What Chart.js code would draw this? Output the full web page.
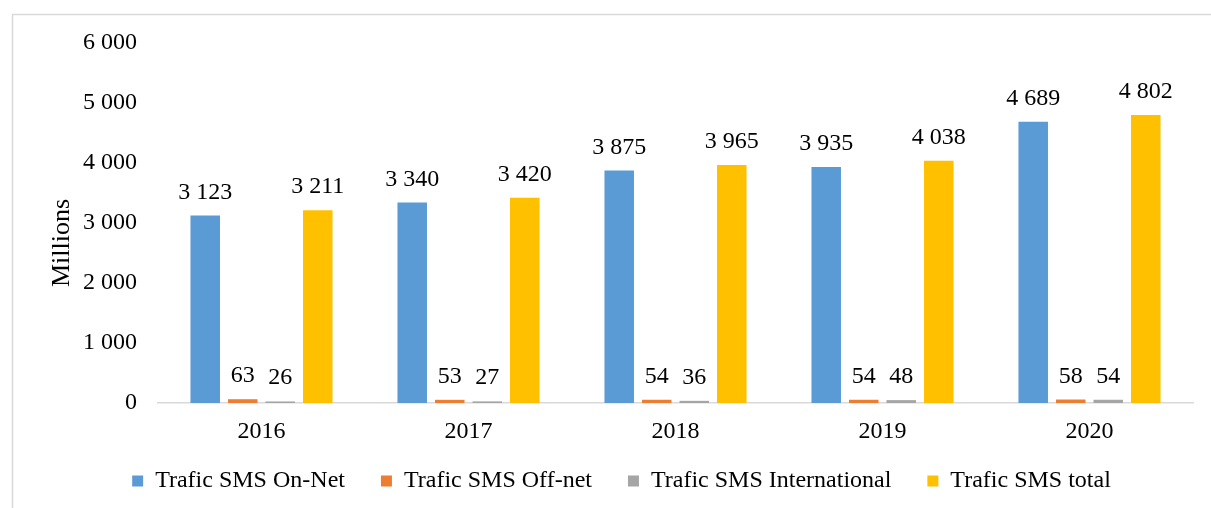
<!DOCTYPE html>
<html lang="fr">
<head>
    <meta charset="UTF-8">
    <title>Trafic SMS</title>
    <script src="https://cdn.jsdelivr.net/npm/chart.js"></script>
    <style>
        html, body {
            margin: 0;
            padding: 0;
            background: #fff;
        }
        .chart-container {
            width: 1211px;
            height: 508px;
            position: relative;
        }
    </style>
</head>
<body>
    <div class="chart-container">
        <canvas id="sms-chart"></canvas>
    </div>

    <script>
        // Data (millions of SMS)
        const years = ['2016', '2017', '2018', '2019', '2020'];
        const onNet = [3123, 3340, 3875, 3935, 4689];
        const offNet = [63, 53, 54, 54, 58];
        const international = [26, 27, 36, 48, 54];
        const total = [3211, 3420, 3965, 4038, 4802];
        const yTicks = [0, 1000, 2000, 3000, 4000, 5000, 6000];

        const FONT = "'Liberation Serif', 'Times New Roman', serif";

        // 3123 -> "3 123"
        function fmt(v) {
            return String(v).replace(/\B(?=(\d{3})+(?!\d))/g, ' ');
        }

        // thin frame on the left and top, like the pasted figure
        const framePlugin = {
            id: 'frame',
            beforeDraw(chart) {
                const ctx = chart.ctx;
                ctx.save();
                ctx.strokeStyle = '#d9d9d9';
                ctx.lineWidth = 1.5;
                ctx.beginPath();
                ctx.moveTo(12.5, chart.height);
                ctx.lineTo(12.5, 14.5);
                ctx.lineTo(chart.width, 14.5);
                ctx.stroke();
                ctx.restore();
            }
        };

        // value labels above every bar
        const valueLabels = {
            id: 'valueLabels',
            afterDatasetsDraw(chart) {
                const ctx = chart.ctx;
                ctx.save();
                ctx.font = '24px ' + FONT;
                ctx.fillStyle = '#000';
                ctx.textAlign = 'center';
                ctx.textBaseline = 'alphabetic';
                chart.data.datasets.forEach((ds, i) => {
                    chart.getDatasetMeta(i).data.forEach((bar, j) => {
                        ctx.fillText(fmt(ds.data[j]), bar.x, bar.y - 17);
                    });
                });
                ctx.restore();
            }
        };

        // "Millions" axis title, centred a bit lower than the plot area
        const axisTitle = {
            id: 'axisTitle',
            afterDraw(chart) {
                const ctx = chart.ctx;
                ctx.save();
                ctx.font = '26px ' + FONT;
                ctx.fillStyle = '#000';
                ctx.textAlign = 'center';
                ctx.textBaseline = 'middle';
                ctx.translate(62, 243);
                ctx.rotate(-Math.PI / 2);
                ctx.fillText('Millions', 0, 0);
                ctx.restore();
            }
        };

        const ctx = document.getElementById('sms-chart').getContext('2d');
        new Chart(ctx, {
            type: 'bar',
            data: {
                labels: years,
                datasets: [
                    { label: 'Trafic SMS On-Net', data: onNet, backgroundColor: '#5b9bd5' },
                    { label: 'Trafic SMS Off-net', data: offNet, backgroundColor: '#ed7d31' },
                    { label: 'Trafic SMS International', data: international, backgroundColor: '#a5a5a5' },
                    { label: 'Trafic SMS total', data: total, backgroundColor: '#ffc000' }
                ]
            },
            options: {
                responsive: true,
                maintainAspectRatio: false,
                animation: false,
                datasets: {
                    bar: {
                        categoryPercentage: 0.725,
                        barPercentage: 0.787
                    }
                },
                layout: {
                    padding: { left: 50, right: 18, top: 43, bottom: 5 }
                },
                plugins: {
                    tooltip: { enabled: false },
                    legend: {
                        position: 'bottom',
                        labels: {
                            boxWidth: 11,
                            boxHeight: 11,
                            padding: 36,
                            color: '#000',
                            font: { family: FONT, size: 24 }
                        }
                    }
                },
                scales: {
                    x: {
                        grid: { display: false, drawTicks: false },
                        border: { display: true, color: '#d9d9d9', width: 1.5 },
                        ticks: {
                            padding: 14,
                            color: '#000',
                            font: { family: FONT, size: 24 }
                        },
                        afterFit(scale) {
                            // thin box so the legend sits close; don't clip the year labels to it
                            scale.height = 30;
                            scale._computeLabelArea = () => undefined;
                        }
                    },
                    y: {
                        min: 0,
                        max: 6000,
                        grid: { display: false, drawTicks: false },
                        border: { display: false },
                        afterBuildTicks(scale) {
                            scale.ticks = yTicks.map(v => ({ value: v }));
                        },
                        ticks: {
                            padding: 21,
                            color: '#000',
                            font: { family: FONT, size: 24 },
                            callback: v => fmt(v)
                        },
                        afterFit(scale) { scale.width = 108; }
                    }
                }
            },
            plugins: [framePlugin, valueLabels, axisTitle]
        });
    </script>
</body>
</html>
